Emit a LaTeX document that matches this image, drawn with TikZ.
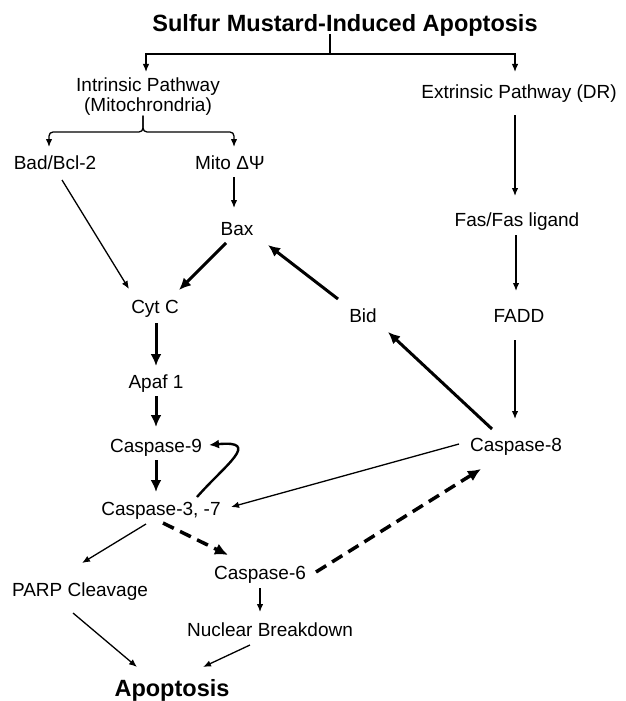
\documentclass[tikz,border=0pt]{standalone}
\usepackage{fontspec}
\setmainfont{Liberation Sans}
\usetikzlibrary{arrows.meta}
\begin{document}
\begin{tikzpicture}[x=1pt,y=-1pt,
  lbl/.style={anchor=base,inner sep=0pt,font=\fontsize{19}{20}\selectfont},
  big/.style={anchor=base,inner sep=0pt,font=\fontsize{23.5}{26}\selectfont\bfseries},
  thin/.style={line width=1.3pt,-{Latex[length=8pt,width=6.5pt]}},
  plain/.style={line width=1.3pt},
  thick/.style={line width=3pt,-{Latex[length=12pt,width=11pt]}},
  curvy/.style={line width=2.4pt,-{Latex[length=10pt,width=9pt]}},
  dsh/.style={line width=3.5pt,dash pattern=on 12pt off 7pt,-{Latex[length=13pt,width=12pt]}}]
\useasboundingbox (0,0) rectangle (626,701);
% nodes
\node[big] (title) at (345,32) {Sulfur Mustard-Induced Apoptosis};
\node[lbl,align=center] (intr) at (148,111.6) {Intrinsic Pathway\\(Mitochrondria)};
\node[lbl] (extr) at (519,98.6) {Extrinsic Pathway (DR)};
\node[lbl] (bad) at (55,169.6) {Bad/Bcl-2};
\node[lbl] (mito) at (230,169.6) {Mito ΔΨ};
\node[lbl] (bax) at (237,235.6) {Bax};
\node[lbl] (fas) at (517,226.6) {Fas/Fas ligand};
\node[lbl] (cytc) at (155,313.6) {Cyt C};
\node[lbl] (bid) at (363,322.6) {Bid};
\node[lbl] (fadd) at (519,322.6) {FADD};
\node[lbl] (apaf) at (156,388.6) {Apaf 1};
\node[lbl] (c9) at (156,452.6) {Caspase-9};
\node[lbl] (c8) at (516,451.6) {Caspase-8};
\node[lbl] (c3) at (161,515.6) {Caspase-3, -7};
\node[lbl] (c6) at (260,579.6) {Caspase-6};
\node[lbl] (parp) at (80,596.6) {PARP Cleavage};
\node[lbl] (nb) at (270,636.6) {Nuclear Breakdown};
\node[big] (apop) at (172,696) {Apoptosis};
% top split
\coordinate (tj) at ([shift={(-15,22)}]title.base);
\draw[plain] ([shift={(-15,2)}]title.base) -- (tj);
\draw[thin] (tj) -| ([shift={(-2,-39.6)}]intr.base);
\draw[thin] (tj) -| ([shift={(-4,-26.6)}]extr.base);
% brace under intrinsic
\coordinate (bj) at ([shift={(-5,20.4)}]intr.base);
\draw[thin,rounded corners=4pt] ([shift={(-5,4)}]intr.base) -- (bj) -| ([shift={(-6,-22.6)}]bad.base);
\draw[thin,rounded corners=4pt] ([shift={(-5,4)}]intr.base) -- (bj) -| ([shift={(4,-22.6)}]mito.base);
% extrinsic chain
\draw[thin] ([shift={(-4,16.4)}]extr.base) -- ([shift={(-2,-30.6)}]fas.base);
\draw[thin] ([shift={(-1,8.4)}]fas.base) -- ([shift={(-3,-31.6)}]fadd.base);
\draw[thin] ([shift={(-4,17.4)}]fadd.base) -- ([shift={(-1,-32.6)}]c8.base);
% intrinsic
\draw[thin] ([shift={(4,7.4)}]mito.base) -- ([shift={(-3,-27.6)}]bax.base);
\draw[thin] ([shift={(7,10.4)}]bad.base) -- ([shift={(-26,-24.6)}]cytc.base);
\draw[thick] ([shift={(-11,7.4)}]bax.base) -- ([shift={(24,-23.6)}]cytc.base);
\draw[thick] ([shift={(-25,-23.6)}]bid.base) -- ([shift={(31,9.4)}]bax.base);
\draw[thick] ([shift={(-24,-22.6)}]c8.base) -- ([shift={(25,9.4)}]bid.base);
\draw[thick] ([shift={(1,9.4)}]cytc.base) -- ([shift={(0,-22.6)}]apaf.base);
\draw[thick] ([shift={(0,7.4)}]apaf.base) -- ([shift={(0,-25.6)}]c9.base);
\draw[thick] ([shift={(0,7.4)}]c9.base) -- ([shift={(-5,-23.6)}]c3.base);
\draw[curvy] ([shift={(36,-18.6)}]c3.base) .. controls ([shift={(69,12.4)}]c9.base) and ([shift={(106,-12.6)}]c9.base) .. ([shift={(53,-7.6)}]c9.base);
\draw[thin] ([shift={(-57,-7.6)}]c8.base) -- ([shift={(70,-8.6)}]c3.base);
\draw[thin] ([shift={(-15,8.4)}]c3.base) -- ([shift={(2,-33.6)}]parp.base);
\draw[dsh] ([shift={(2,7.4)}]c3.base) -- ([shift={(-32,-24.6)}]c6.base);
\draw[dsh] ([shift={(56,-7.6)}]c6.base) -- ([shift={(-35,17.4)}]c8.base);
\draw[thin] ([shift={(0,8.4)}]c6.base) -- ([shift={(-10,-24.6)}]nb.base);
\draw[thin] ([shift={(-7,16.4)}]parp.base) -- ([shift={(-35,-29)}]apop.base);
\draw[thin] ([shift={(-20,8.4)}]nb.base) -- ([shift={(31,-29)}]apop.base);
\end{tikzpicture}
\end{document}
